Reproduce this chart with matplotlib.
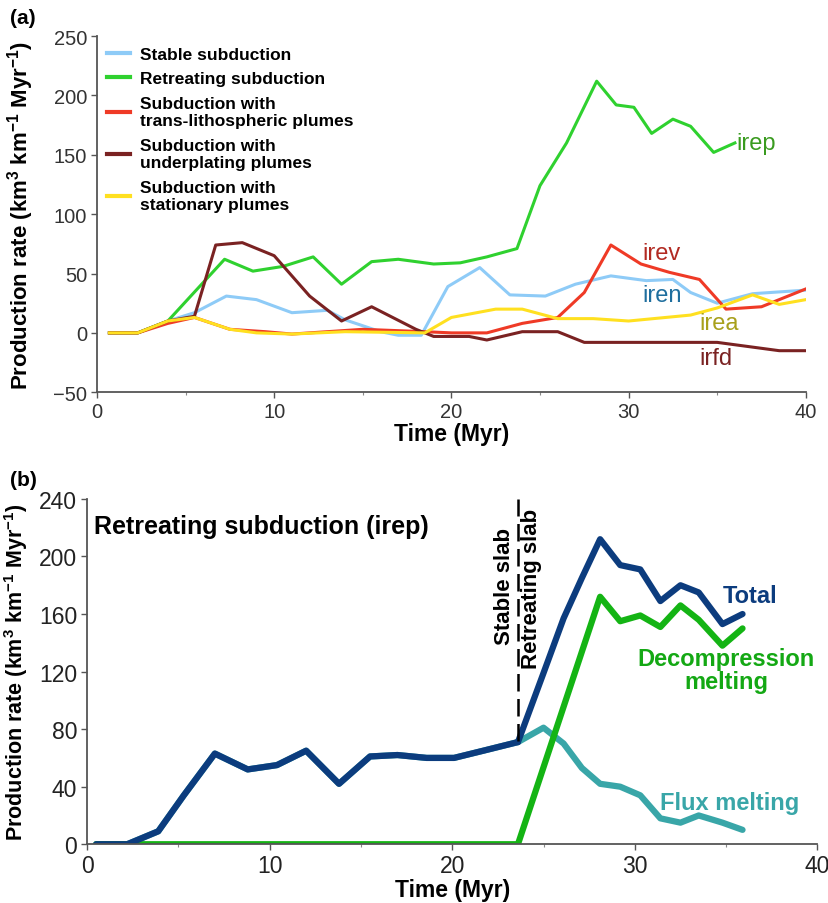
import matplotlib
matplotlib.use("Agg")
import matplotlib.pyplot as plt

plt.rcParams['font.family'] = ['Liberation Sans', 'DejaVu Sans']
plt.rcParams['mathtext.fontset'] = 'custom'
plt.rcParams['mathtext.rm'] = 'Liberation Sans:bold'
plt.rcParams['mathtext.bf'] = 'Liberation Sans:bold'
plt.rcParams['mathtext.default'] = 'bf'

# ---- panel (a) data: production rate of the five models
t_stable = [0.7, 2.3, 4.0, 5.5, 7.3, 9.0, 11.0, 13.0, 14.0, 16.0, 17.0, 18.3, 19.8, 21.6,
            23.3, 25.3, 27.0, 29.0, 31.0, 32.5, 33.5, 35.0, 37.0, 40.0]
v_stable = [0, 0, 10, 17, 31, 28, 17, 19, 11, 1, -2, -2, 39, 55,
            32, 31, 41, 48, 44, 45, 34, 25, 33, 36]

t_retreat = [0.7, 2.3, 4.0, 7.2, 8.8, 10.5, 12.2, 13.8, 15.5, 17.0, 19.0, 20.5, 22.0,
             23.7, 25.0, 26.5, 28.2, 29.3, 30.3, 31.3, 32.5, 33.5, 34.8, 36.0]
v_retreat = [0, 0, 10, 62, 52, 56, 64, 41, 60, 62, 58, 59, 64,
             71, 124, 160, 212, 192, 190, 168, 180, 174, 152, 160]

t_trans = [0.7, 2.3, 4.0, 5.5, 7.5, 9.5, 11.0, 13.0, 15.0, 18.5, 20.0, 22.0, 24.0,
           26.0, 27.5, 29.0, 30.7, 32.3, 34.0, 35.5, 37.5, 40.0]
v_trans = [0, 0, 8, 13, 3, 1, -1, 1, 3, 1, 0, 0, 8,
           13, 34, 74, 58, 51, 45, 20, 22, 37]

t_under = [0.7, 2.3, 4.0, 5.5, 6.7, 8.2, 10.0, 12.0, 13.8, 15.5, 18.0, 19.0, 21.0, 22.0,
           24.0, 26.0, 27.5, 29.5, 35.0, 38.5, 40.0]
v_under = [0, 0, 10, 14, 74, 76, 65, 31, 10, 22, 3, -3, -3, -6,
           1, 1, -8, -8, -8, -15, -15]

t_station = [0.7, 2.3, 4.0, 5.5, 7.5, 9.0, 11.0, 14.0, 18.5, 20.0, 22.5, 24.0, 26.0,
             28.0, 30.0, 33.5, 35.0, 37.0, 38.5, 40.0]
v_station = [0, 0, 10, 13, 3, 0, -1, 1, 0, 13, 20, 20, 12,
             12, 10, 15, 21, 32, 24, 28]

# ---- panel (b) data: retreating subduction (irep) split by melting type
t_irep = [0.5, 2.2, 3.9, 5.3, 7.0, 8.8, 10.4, 12.0, 13.8, 15.5, 17.0, 18.6, 20.1, 21.7,
          23.6, 25.0, 26.1, 27.1, 28.1, 29.2, 30.3, 31.4, 32.5, 33.5, 34.8, 35.9]
total = [0, 0, 9, 34, 63, 52, 55, 65, 42, 61, 62, 60, 60, 65,
         71, 119, 157, 185, 212, 194, 191, 169, 180, 175, 153, 160]
flux = [0, 0, 9, 34, 63, 52, 55, 65, 42, 61, 62, 60, 60, 65,
        71, 81, 70, 53, 42, 40, 34, 18, 15, 20, 15, 10]
t_decomp = [0.5, 2.2, 23.6, 28.1, 29.2, 30.3, 31.4, 32.5, 33.5, 34.8, 35.9]
decomp = [0, 0, 0, 172, 155, 159, 151, 166, 156, 138, 150]
slab_switch = 23.6

fig = plt.figure(figsize=(8.29, 9.04), dpi=100)
ax1 = fig.add_axes([0.117, 0.565, 0.855, 0.394])
ax2 = fig.add_axes([0.105, 0.065, 0.881, 0.382])

for ax, fs in ((ax1, 14.5), (ax2, 16.5)):
    for s in ('top', 'right'):
        ax.spines[s].set_visible(False)
    for s in ('left', 'bottom'):
        ax.spines[s].set_color('#555555')
        ax.spines[s].set_linewidth(1.3)
    ax.tick_params(direction='out', length=4, width=1, color='#555555',
                   labelsize=fs, labelcolor='#333333', pad=3)
    ax.tick_params(which='minor', direction='out', length=2.5, width=0.8, color='#888888')

# ---- panel (a)
ax1.plot(t_stable, v_stable, color='#8ecbf7', lw=2.2, label='Stable subduction')
ax1.plot(t_retreat, v_retreat, color='#2fd12f', lw=2.2, label='Retreating subduction')
ax1.plot(t_trans, v_trans, color='#ef3a26', lw=2.2,
         label='Subduction with\ntrans-lithospheric plumes')
ax1.plot(t_under, v_under, color='#7a2222', lw=2.2,
         label='Subduction with\nunderplating plumes')
ax1.plot(t_station, v_station, color='#ffe020', lw=2.2,
         label='Subduction with\nstationary plumes')
leg = ax1.legend(loc='upper left', bbox_to_anchor=(0.0, 1.0), frameon=False,
                 handlelength=1.3, handletextpad=0.55, labelspacing=0.55,
                 prop={'weight': 'bold', 'size': 12.5}, borderaxespad=0.2)
for h in leg.get_lines():
    h.set_linewidth(3)

ax1.text(36.1, 160, 'irep', color='#3a9b20', fontsize=17, va='center')
ax1.text(30.8, 67, 'irev', color='#b22a22', fontsize=17, va='center')
ax1.text(30.8, 32, 'iren', color='#1f6e9e', fontsize=17, va='center')
ax1.text(34.0, 8, 'irea', color='#a8a01c', fontsize=17, va='center')
ax1.text(34.0, -21, 'irfd', color='#7a2222', fontsize=17, va='center')

ax1.set_xlim(0, 40)
ax1.set_ylim(-50, 250)
ax1.set_xticks([0, 10, 20, 30, 40])
ax1.set_xticks([5, 15, 25, 35], minor=True)
ax1.set_yticks([-50, 0, 50, 100, 150, 200, 250])
ax1.set_yticklabels(['\u221250', '0', '50', '100', '150', '200', '250'])
ax1.set_xlabel('Time (Myr)', fontsize=16.5, fontweight='bold', labelpad=1)
ax1.set_ylabel(r'Production rate (km$^{3}$ km$^{-1}$ Myr$^{-1}$)', fontsize=16,
               fontweight='bold')
ax1.yaxis.set_label_coords(-0.086, 0.5)
fig.text(0.012, 0.98, '(a)', fontsize=15, fontweight='bold', va='center')

# ---- panel (b)
ax2.plot(t_irep, flux, color='#39a6a8', lw=4.5, solid_capstyle='round')
ax2.plot(t_decomp, decomp, color='#14b414', lw=4.5, solid_capstyle='round')
ax2.plot(t_irep[:15], total[:15], color='#0c3c7e', lw=4.5, solid_capstyle='round')
ax2.plot(t_irep[14:], total[14:], color='#0c3c7e', lw=4.5, solid_capstyle='round')
ax2.plot([slab_switch, slab_switch], [72, 240], color='black', lw=1.8,
         dashes=(7, 3))
ax2.text(slab_switch - 0.15, 180, 'Stable slab', rotation=90, ha='right', va='center',
         fontsize=16, fontweight='bold')
ax2.text(slab_switch + 0.15, 178, 'Retreating slab', rotation=90, ha='left', va='center',
         fontsize=16, fontweight='bold')

ax2.text(0.4, 221, 'Retreating subduction (irep)', fontsize=18, fontweight='bold',
         va='center', ha='left')
ax2.text(34.8, 173, 'Total', color='#0c3c7e', fontsize=17, fontweight='bold', va='center')
ax2.text(35.0, 121, 'Decompression\nmelting', color='#14a814', fontsize=17,
         fontweight='bold', va='center', ha='center', linespacing=1.0)
ax2.text(31.4, 29, 'Flux melting', color='#39a6a8', fontsize=17, fontweight='bold',
         va='center')

ax2.set_xlim(0, 40)
ax2.set_ylim(0, 240)
ax2.set_xticks([0, 10, 20, 30, 40])
ax2.set_xticks([5, 15, 25, 35], minor=True)
ax2.set_yticks([0, 40, 80, 120, 160, 200, 240])
ax2.tick_params(labelcolor='#222222')
ax2.set_xlabel('Time (Myr)', fontsize=16.5, fontweight='bold', labelpad=1)
ax2.set_ylabel(r'Production rate (km$^{3}$ km$^{-1}$ Myr$^{-1}$)', fontsize=15.5,
               fontweight='bold')
ax2.yaxis.set_label_coords(-0.078, 0.5)
fig.text(0.012, 0.468, '(b)', fontsize=15, fontweight='bold', va='center')

fig.savefig('out.png', dpi=100)
